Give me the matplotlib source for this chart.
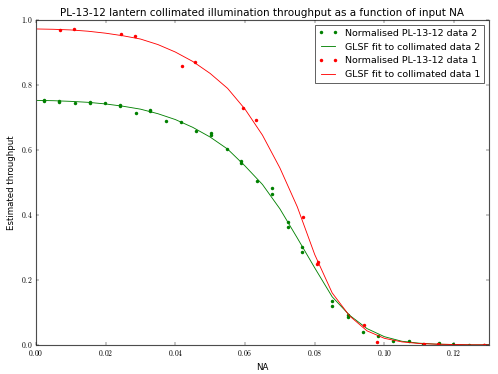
import matplotlib
matplotlib.use("Agg")
import matplotlib.pyplot as plt
from matplotlib.ticker import FuncFormatter, MultipleLocator

# measured points, data set 2 (green)
na2 = [0.0024, 0.0024, 0.0067, 0.0067, 0.0112, 0.0154, 0.0154, 0.0199, 0.0241, 0.0241,
       0.0286, 0.0328, 0.0328, 0.0373, 0.0415, 0.0460, 0.0502, 0.0502, 0.0547, 0.0589,
       0.0589, 0.0634, 0.0677, 0.0677, 0.0722, 0.0722, 0.0764, 0.0764, 0.0850, 0.0850,
       0.0895, 0.0895, 0.0938, 0.0982, 0.1025, 0.1069, 0.1112, 0.1156, 0.1198, 0.1242,
       0.1286]
thr2 = [0.755, 0.752, 0.751, 0.748, 0.745, 0.748, 0.745, 0.745, 0.740, 0.736,
        0.715, 0.724, 0.720, 0.689, 0.685, 0.658, 0.651, 0.647, 0.603, 0.567,
        0.561, 0.506, 0.484, 0.465, 0.378, 0.363, 0.301, 0.286, 0.134, 0.119,
        0.093, 0.085, 0.040, 0.027, 0.013, 0.013, 0.003, 0.007, 0.002, 0.001,
        0.001]

# measured points, data set 1 (red)
na1 = [0.0070, 0.0108, 0.0244, 0.0283, 0.0419, 0.0456, 0.0593, 0.0632, 0.0765, 0.0807,
       0.0810, 0.0942, 0.0978, 0.1113, 0.1155, 0.1286]
thr1 = [0.970, 0.972, 0.956, 0.950, 0.860, 0.870, 0.731, 0.694, 0.394, 0.248,
        0.254, 0.060, 0.009, 0.002, 0.002, 0.001]

# fit curves
na_fit = [0.000, 0.005, 0.010, 0.015, 0.020, 0.025, 0.030, 0.035, 0.040, 0.045,
          0.050, 0.055, 0.060, 0.065, 0.070, 0.075, 0.080, 0.085, 0.090, 0.095,
          0.100, 0.105, 0.110, 0.115, 0.120, 0.125, 0.130]
fit2 = [0.753, 0.752, 0.750, 0.747, 0.742, 0.735, 0.726, 0.712, 0.694, 0.670,
        0.640, 0.603, 0.551, 0.494, 0.419, 0.329, 0.237, 0.148, 0.091, 0.050,
        0.025, 0.011, 0.005, 0.002, 0.001, 0.000, 0.000]
fit1 = [0.973, 0.972, 0.970, 0.966, 0.960, 0.952, 0.942, 0.925, 0.902, 0.873,
        0.836, 0.790, 0.726, 0.646, 0.545, 0.425, 0.278, 0.160, 0.089, 0.043,
        0.020, 0.009, 0.004, 0.002, 0.001, 0.000, 0.000]

plt.style.use("classic")
plt.rcParams["figure.facecolor"] = "white"
plt.rcParams["savefig.facecolor"] = "white"
plt.rcParams["mathtext.fontset"] = "cm"
plt.rcParams["font.family"] = "DejaVu Sans"

fig = plt.figure(figsize=(498 / 62.25, 374 / 62.25), dpi=62.25)
ax = fig.add_subplot(111)
fig.subplots_adjust(left=0.072, right=0.982, top=0.946, bottom=0.078)

ax.plot(na2, thr2, "o", color="green", markersize=4, markeredgewidth=0,
        label="Normalised PL-13-12 data 2")
ax.plot(na_fit, fit2, "-", color="green", linewidth=1,
        label="GLSF fit to collimated data 2")
ax.plot(na1, thr1, "o", color="red", markersize=4, markeredgewidth=0,
        label="Normalised PL-13-12 data 1")
ax.plot(na_fit, fit1, "-", color="red", linewidth=1,
        label="GLSF fit to collimated data 1")

ax.set_xlim(0, 0.13)
ax.set_ylim(0, 1.0)
ax.xaxis.set_major_locator(MultipleLocator(0.02))
ax.yaxis.set_major_locator(MultipleLocator(0.2))
ax.xaxis.set_major_formatter(FuncFormatter(lambda v, p: "$%.2f$" % v))
ax.yaxis.set_major_formatter(FuncFormatter(lambda v, p: "$%.1f$" % v))
ax.tick_params(labelsize=9)
for s in ax.spines.values():
    s.set_color("0.3")
    s.set_linewidth(1.3)

ax.set_xlabel("NA", fontsize=10)
ax.set_ylabel("Estimated throughput", fontsize=10)
ax.set_title("PL-13-12 lantern collimated illumination throughput as a function of input NA",
             fontsize=12)

leg = ax.legend(loc="upper right", numpoints=2, fontsize=11, frameon=True, fancybox=False)
leg.get_frame().set_edgecolor("0.3")

fig.savefig("out.png", dpi=62.25)
